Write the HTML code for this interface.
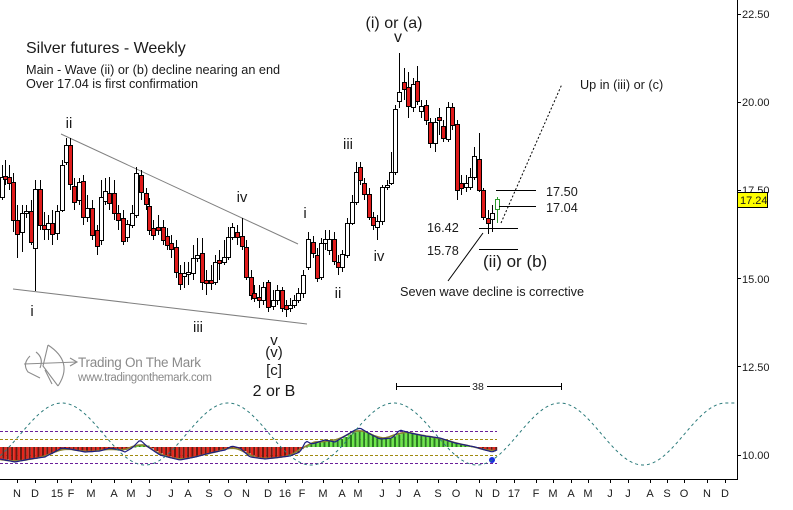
<!DOCTYPE html>
<html><head><meta charset="utf-8">
<style>
html,body{margin:0;padding:0;background:#fff;}
svg{display:block;}
text{font-family:"Liberation Sans",Arial,sans-serif;fill:#1a1a1a;}
</style></head>
<body>
<svg id="s" width="793" height="510" viewBox="0 0 793 510" xmlns="http://www.w3.org/2000/svg">
<rect width="793" height="510" fill="#fff"/>
<!-- indicator guide lines -->
<g stroke-dasharray="3 2" stroke-width="1">
<line x1="0" y1="431.5" x2="497" y2="431.5" stroke="#6a1f9a"/>
<line x1="0" y1="463.5" x2="497" y2="463.5" stroke="#6a1f9a"/>
<line x1="0" y1="439.5" x2="497" y2="439.5" stroke="#a08a10"/>
<line x1="0" y1="455.5" x2="497" y2="455.5" stroke="#a08a10"/>
</g>
<g id="ind"></g>
<path id="cyc" fill="none" stroke="#2a7a7a" stroke-width="1" stroke-dasharray="3 3"/>
<!-- trendlines -->
<line x1="61" y1="134" x2="298" y2="244" stroke="#808080" stroke-width="1"/>
<line x1="13" y1="289" x2="307" y2="324" stroke="#808080" stroke-width="1"/>
<g id="candles"></g>
<!-- level lines -->
<g stroke="#000" stroke-width="1">
<line x1="496" y1="190.5" x2="536" y2="190.5"/>
<line x1="499" y1="206.5" x2="536" y2="206.5"/>
<line x1="479" y1="228.5" x2="518" y2="228.5"/>
<line x1="479" y1="249.5" x2="518" y2="249.5"/>
<line x1="483" y1="233" x2="448" y2="281"/>
<line x1="501" y1="223" x2="562" y2="84" stroke-dasharray="2 2"/>
<line x1="396" y1="386.5" x2="470" y2="386.5"/>
<line x1="487" y1="386.5" x2="562" y2="386.5"/>
<line x1="396.5" y1="383" x2="396.5" y2="390"/>
<line x1="561.5" y1="383" x2="561.5" y2="390"/>
</g>
<!-- titles -->
<text x="26" y="53" font-size="16">Silver futures - Weekly</text>
<text x="26" y="74" font-size="12.7">Main - Wave (ii) or (b) decline nearing an end</text>
<text x="26" y="88" font-size="12.7">Over 17.04 is first confirmation</text>
<!-- wave labels -->
<g font-size="15" text-anchor="middle">
<text x="69" y="128">ii</text>
<text x="32" y="316">i</text>
<text x="198" y="332">iii</text>
<text x="242" y="202">iv</text>
<text x="305" y="218">i</text>
<text x="338" y="298">ii</text>
<text x="348" y="149">iii</text>
<text x="379" y="261">iv</text>
<text x="398" y="42" font-size="16">v</text>
<text x="394" y="28" font-size="16">(i) or (a)</text>
<text x="274" y="345" font-size="15">v</text>
<text x="274" y="357" font-size="15">(v)</text>
<text x="274" y="375" font-size="15">[c]</text>
<text x="274" y="396" font-size="16">2 or B</text>
</g>
<text x="483" y="267" font-size="17">(ii) or (b)</text>
<g font-size="12.7">
<text x="580" y="89">Up in (iii) or (c)</text>
<text x="546" y="196">17.50</text>
<text x="546" y="212">17.04</text>
<text x="427" y="232">16.42</text>
<text x="427" y="255">15.78</text>
<text x="400" y="296">Seven wave decline is corrective</text>
</g>
<text x="478" y="390" font-size="10.5" text-anchor="middle">38</text>
<!-- logo -->
<g fill="none" stroke="#8c8c8c" stroke-width="1.1">
<path d="M48,345 Q74,362 58,386"/>
<path d="M48,345 L43,366 L58,386"/>
<path d="M24,364 L77,362"/>
<path d="M30,356 Q22,364 28,372 L40,378"/>
<path d="M36,352 Q44,358 40,368"/>
<path d="M45,370 L52,384"/>
<path d="M70,358 L77,362 L70,366"/>
</g>
<text x="78" y="367" font-size="13.5" textLength="123" style="fill:#8a8a8a">Trading On The Mark</text>
<text x="78" y="381" font-size="11.5" textLength="134" style="fill:#8a8a8a">www.tradingonthemark.com</text>
<!-- axes -->
<line x1="737.5" y1="0" x2="737.5" y2="480" stroke="#000" stroke-width="1"/>
<line x1="0" y1="479.5" x2="738" y2="479.5" stroke="#000" stroke-width="1"/>
<g stroke="#000" stroke-width="1">
<line x1="737" y1="14.5" x2="741" y2="14.5"/>
<line x1="737" y1="102.5" x2="741" y2="102.5"/>
<line x1="737" y1="190.5" x2="741" y2="190.5"/>
<line x1="737" y1="278.5" x2="741" y2="278.5"/>
<line x1="737" y1="366.5" x2="741" y2="366.5"/>
<line x1="737" y1="455.5" x2="741" y2="455.5"/>
</g>
<g font-size="11">
<text x="742" y="18">22.50</text>
<text x="742" y="106">20.00</text>
<text x="742" y="194">17.50</text>
<text x="742" y="283">15.00</text>
<text x="742" y="371">12.50</text>
<text x="742" y="459">10.00</text>
</g>
<rect x="737.5" y="192.5" width="30" height="15" fill="#ffff00" stroke="#000" stroke-width="1"/>
<text x="740" y="204" font-size="11">17.24</text>
<g id="months" font-size="11" text-anchor="middle"></g>
<g id="mticks" stroke="#000" stroke-width="1"></g>
</svg>
<script>
(function(){
var C=[
[2,197,177,165,200],[5,176,179,160,185],[9,177,183,165,190],[13,182,220,173,232],[17,220,234,205,258],
[22,232,213,205,252],[26,213,211,205,218],[31,211,242,200,245],[35,248,189,180,291],[40,189,225,180,230],
[44,225,229,212,240],[48,229,223,215,240],[52,223,234,210,245],[57,233,211,205,240],[62,210,165,160,212],
[66,162,145,138,165],[70,145,184,138,190],[74,186,202,178,210],[79,200,182,178,205],[83,181,217,175,225],
[87,217,208,195,222],[92,208,235,200,240],[97,230,246,225,255],[101,240,197,180,245],[105,201,191,178,205],
[109,193,203,177,210],[114,193,213,180,220],[118,213,220,205,230],[123,218,241,210,245],[127,237,224,220,242],
[132,225,213,205,228],[136,215,173,167,218],[141,175,192,170,200],[146,193,204,188,210],[149,206,230,198,235],
[153,228,235,220,240],[158,227,230,215,235],[163,227,240,220,245],[167,236,245,228,250],[171,243,249,235,258],
[176,247,272,240,278],[180,273,284,265,290],[184,276,273,262,288],[188,274,272,262,285],[193,273,258,245,280],
[197,258,255,238,262],[202,253,282,238,290],[206,280,283,270,295],[211,280,283,265,290],[215,282,262,255,285],
[219,260,263,250,280],[224,262,257,240,265],[228,257,237,227,260],[232,237,227,223,240],[237,232,237,225,245],
[242,236,246,218,250],[246,247,277,240,280],[251,277,295,270,300],[254,293,298,285,302],[259,297,300,285,308],
[263,300,287,282,305],[268,282,307,280,312],[273,306,300,290,310],[277,300,290,285,305],[282,290,308,287,312],
[286,305,309,300,317],[290,308,305,298,312],[294,305,300,295,308],[298,300,293,288,303],[303,293,275,270,298],
[308,267,239,232,270],[313,242,253,236,258],[317,255,278,248,282],[321,277,243,238,280],[325,243,239,230,250],
[329,250,239,230,255],[334,239,261,232,265],[338,262,267,255,275],[342,267,254,250,272],[347,255,223,218,258],
[352,223,202,195,225],[356,202,172,162,205],[360,167,180,162,185],[364,183,194,178,200],[369,194,217,188,220],
[373,217,225,212,230],[377,227,221,215,240],[382,221,187,185,225],[387,187,185,180,190],[391,183,172,152,185],
[395,172,109,105,175],[399,101,92,53,108],[404,82,89,68,100],[408,87,106,72,118],[413,107,84,78,112],
[417,81,101,66,105],[421,111,106,100,118],[426,105,120,100,125],[430,122,143,118,148],[435,143,122,118,152],
[439,117,120,108,135],[443,126,138,120,142],[448,139,107,102,142],[452,107,125,103,130],[457,124,190,120,200],
[461,183,188,175,195],[466,187,183,175,192],[470,187,177,168,190],[474,177,156,147,180],[479,159,190,133,192],
[483,190,217,188,220],[488,218,223,210,234],[492,219,213,205,232],[497,209,199,197,223]];
var h='';
for(var i=0;i<C.length;i++){
 var c=C[i],X=c[0],o=c[1],cl=c[2],hi=c[3],lo=c[4];
 var last=(i==C.length-1);
 var sc=last?'#2e9a2e':'#000';
 var top=Math.min(o,cl),bot=Math.max(o,cl);
 if(bot-top<1)bot=top+1;
 var fill=(cl<o)?'#fff':'#e01b1b';
 h+='<line x1="'+(X+0.5)+'" y1="'+hi+'" x2="'+(X+0.5)+'" y2="'+lo+'" stroke="'+sc+'" stroke-width="1"/>';
 h+='<rect x="'+(X-1.5)+'" y="'+(top+0.5)+'" width="4" height="'+(bot-top)+'" fill="'+fill+'" stroke="'+sc+'" stroke-width="1"/>';
}
document.getElementById('candles').innerHTML=h;

var P=[[0,459],[15,462],[30,459],[45,457],[62,448],[70,449],[85,452],[100,451],[110,448],[120,450],[125,452],[132,448],[140,440],[148,447],[160,455],[180,460],[195,457],[210,453],[225,450],[232,446],[240,448],[250,457],[265,459],[290,456],[300,452],[306,441],[312,444],[325,440],[335,442],[345,436],[355,430],[360,428],[370,434],[380,439],[392,438],[400,430],[410,433],[425,436],[440,438],[455,443],[465,445],[475,447],[485,450],[492,452],[497,450]];
function f(x){
 if(x<=P[0][0])return P[0][1];
 for(var j=1;j<P.length;j++){if(x<=P[j][0]){var a=P[j-1],b=P[j];return a[1]+(b[1]-a[1])*(x-a[0])/(b[0]-a[0]);}}
 return P[P.length-1][1];
}
var Z=447,g='';
for(var x=0;x<=495;x+=4.4){
 var sm=0;for(var k=-8;k<=8;k+=2)sm+=f(x+1+k);sm/=9;
 var bv=Z+(sm-Z)*0.95;
 var t=Math.min(Z,bv),b=Math.max(Z,bv);
 var pos=bv<Z;
 var hh=Math.max(1,b-t).toFixed(1);
 g+='<rect x="'+x.toFixed(1)+'" y="'+t.toFixed(1)+'" width="2.3" height="'+hh+'" fill="'+(pos?'#6ee84a':'#e8261c')+'"/>';
 g+='<rect x="'+(x+2.3).toFixed(1)+'" y="'+t.toFixed(1)+'" width="2.1" height="'+hh+'" fill="'+(pos?'#2a7a22':'#6a1a12')+'"/>';
}
var bl='M0,'+f(0),ol='';
for(var x=1;x<=497;x+=2){bl+=' L'+x+','+f(x).toFixed(1);}
for(var x=0;x<=497;x+=2){var sm=0;for(var k=-10;k<=10;k+=2)sm+=f(x+k);sm/=11;ol+=(x==0?'M':' L')+x+','+sm.toFixed(1);}
g+='<path d="'+ol+'" fill="none" stroke="#8a8230" stroke-width="1.6"/>';
g+='<path d="'+bl+'" fill="none" stroke="#1e1e82" stroke-width="1.2"/>';
g+='<circle cx="492" cy="460" r="3" fill="#1a2ee0"/>';
document.getElementById('ind').innerHTML=g;

var d='';
for(var x=0;x<=726;x+=1){var y=434-31*Math.cos(2*Math.PI*(x-62)/166);d+=(x==0?'M':' L')+x+','+y.toFixed(2);}
d+=' L736,403';
document.getElementById('cyc').setAttribute('d',d);

var M=[["N",17],["D",35],["15",57],["F",71],["M",91],["A",114],["M",131],["J",149],["J",171],["A",188],["S",209],["O",228],["N",246],["D",268],["16",285],["F",302],["M",323],["A",342],["M",358],["J",382],["J",399],["A",417],["S",438],["O",456],["N",479],["D",496],["17",514],["F",536],["M",553],["A",571],["M",588],["J",610],["J",628],["A",650],["S",667],["O",684],["N",707],["D",725]];
var mt='',tk='';
for(var i=0;i<M.length;i++){
 mt+='<text x="'+M[i][1]+'" y="497">'+M[i][0]+'</text>';
 tk+='<line x1="'+(M[i][1]+0.5)+'" y1="479" x2="'+(M[i][1]+0.5)+'" y2="483"/>';
}
document.getElementById('months').innerHTML=mt;
document.getElementById('mticks').innerHTML=tk;
})();
</script>
</body></html>
